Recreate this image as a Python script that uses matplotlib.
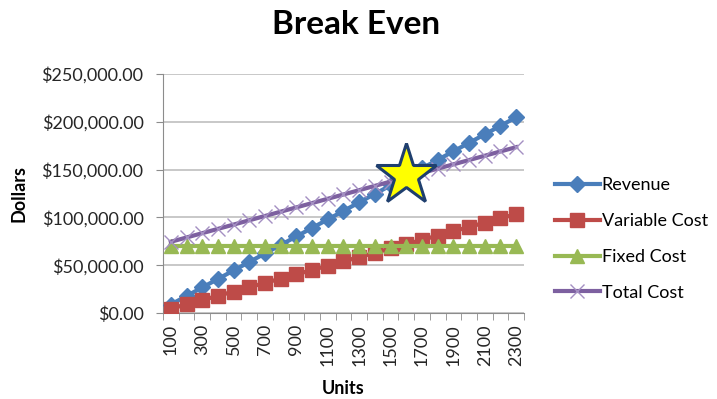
import numpy as np
import matplotlib.pyplot as plt
from matplotlib.ticker import FuncFormatter, FixedLocator

# data
units = [100, 200, 300, 400, 500, 600, 700, 800, 900, 1000, 1100, 1200,
         1300, 1400, 1500, 1600, 1700, 1800, 1900, 2000, 2100, 2200, 2300]
revenue = [8900, 17800, 26700, 35600, 44500, 53400, 62300, 71200, 80100,
           89000, 97900, 106800, 115700, 124600, 133500, 142400, 151300,
           160200, 169100, 178000, 186900, 195800, 204700]
variable_cost = [4500, 9000, 13500, 18000, 22500, 27000, 31500, 36000, 40500,
                 45000, 49500, 54000, 58500, 63000, 67500, 72000, 76500,
                 81000, 85500, 90000, 94500, 99000, 103500]
fixed_cost = [70000] * 23
total_cost = [74500, 79000, 83500, 88000, 92500, 97000, 101500, 106000,
              110500, 115000, 119500, 124000, 128500, 133000, 137500, 142000,
              146500, 151000, 155500, 160000, 164500, 169000, 173500]
break_even_units = 1600
break_even_dollars = 144000

plt.rcParams['font.family'] = ['Lato', 'DejaVu Sans']

fig = plt.figure(figsize=(7.17, 3.99), dpi=100)
ax = fig.add_axes([0.2273, 0.2155, 0.5035, 0.599])

x = np.arange(len(units))
ax.plot(x, revenue, color='#4A7EBB', lw=3, marker='D', ms=8, label='Revenue', zorder=3)
ax.plot(x, variable_cost, color='#BE4B48', lw=3, marker='s', ms=10, label='Variable Cost', zorder=3)
ax.plot(x, fixed_cost, color='#98B954', lw=3, marker='^', ms=10, label='Fixed Cost', zorder=3)
ax.plot(x, total_cost, color='#7D60A0', lw=3, marker='x', ms=10, mew=1,
        mec='#A48FC2', label='Total Cost', zorder=4)

# break-even star
be_x = units.index(break_even_units)
ax.plot([be_x], [break_even_dollars], marker='*', ms=46, mfc='#FFFF00',
        mec='#1F3F6E', mew=2.2, ls='none', zorder=6)

ax.set_xlim(-0.5, len(units) - 0.5)
ax.set_ylim(0, 250000)
ax.yaxis.set_major_locator(FixedLocator(np.arange(0, 250001, 50000)))
ax.yaxis.set_major_formatter(FuncFormatter(lambda v, p: '${:,.2f}'.format(v)))
ax.grid(axis='y', color='#BFBFBF', lw=1.2)
ax.set_axisbelow(True)

ax.set_xticks(x[::2])
ax.set_xticklabels([str(u) for u in units[::2]], rotation=90)
ax.set_xticks(np.arange(-0.5, len(units)), minor=True)
ax.tick_params(axis='x', which='major', length=0, labelsize=13, pad=8, colors='#262626')
ax.tick_params(axis='x', which='minor', length=5, color='#8C8C8C', direction='out')
ax.tick_params(axis='y', length=5, color='#8C8C8C', labelsize=13, labelcolor='#262626', pad=9)

for s in ['top', 'right']:
    ax.spines[s].set_visible(False)
for s in ['left', 'bottom']:
    ax.spines[s].set_color('#8C8C8C')

ax.set_xlabel('Units', fontsize=13, fontweight='bold', labelpad=10)
ax.set_ylabel('Dollars', fontsize=13, fontweight='bold')
ax.yaxis.set_label_coords(-0.375, 0.5)
fig.suptitle('Break Even', x=0.497, y=0.975, fontsize=24, fontweight='bold')

ax.legend(loc='center left', bbox_to_anchor=(1.04, 0.31), frameon=False,
          fontsize=13, handlelength=2.5, labelspacing=1.1, handletextpad=0.1)

fig.savefig('out.png', dpi=100)
